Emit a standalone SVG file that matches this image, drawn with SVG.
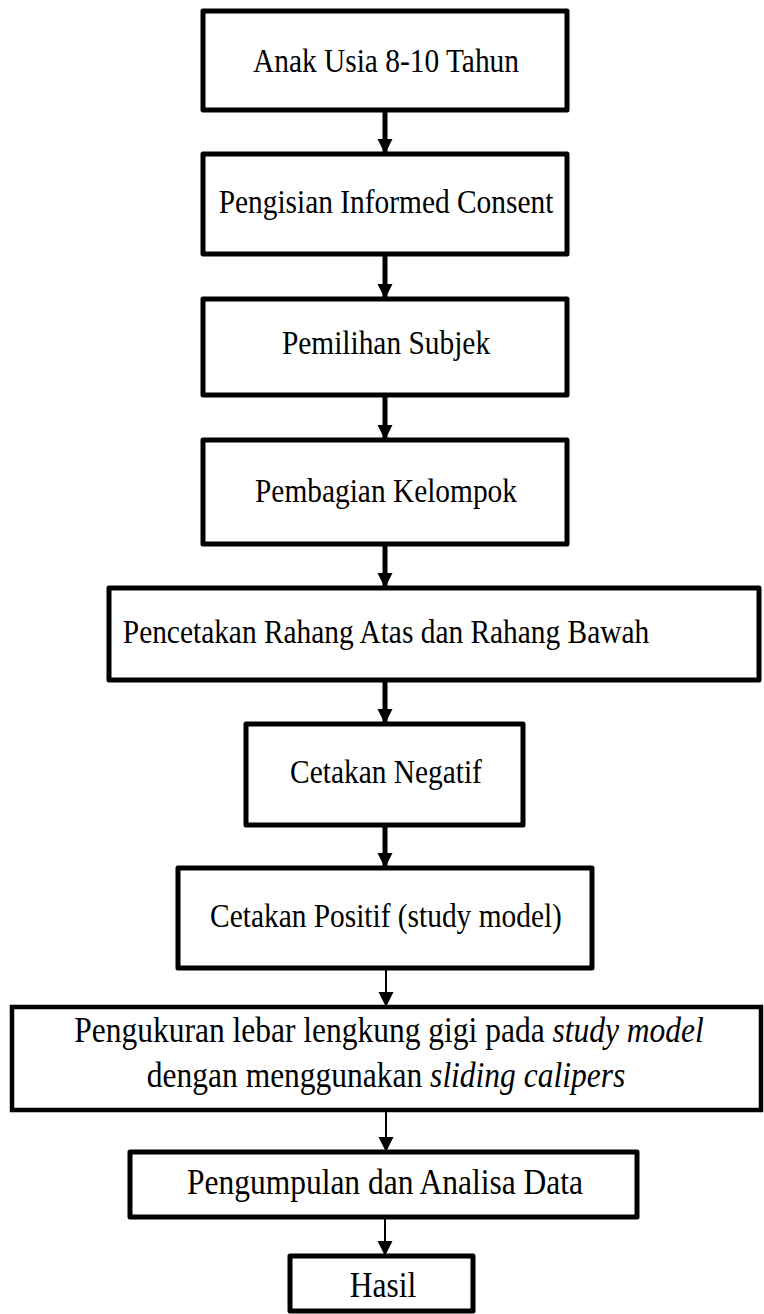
<svg xmlns="http://www.w3.org/2000/svg" width="764" height="1314" viewBox="0 0 764 1314">
<style>
.box{fill:#fff;stroke:#000;stroke-width:5;stroke-linejoin:round}
.thin-box{fill:#fff;stroke:#000;stroke-width:4.5}
.t{font-family:"Liberation Serif","Times New Roman",serif;font-size:29.4px;fill:#000;text-anchor:middle}
.tl{font-family:"Liberation Serif","Times New Roman",serif;font-size:31.5px;fill:#000;text-anchor:middle}
.it{font-style:italic}
.thick{stroke:#000;stroke-width:5;fill:none}
.thin{stroke:#000;stroke-width:2;fill:none}
</style>
<defs>
<marker id="ah" markerUnits="userSpaceOnUse" markerWidth="16" markerHeight="16" refX="15" refY="7.5" orient="auto" viewBox="0 0 16 16">
<path d="M0,0 L15,7.5 L0,15 z" fill="#000"/>
</marker>
</defs>
<rect width="764" height="1314" fill="#fff"/>
<g id="connectors">
<line class="thick" x1="385" y1="110" x2="385" y2="154" marker-end="url(#ah)"/>
<line class="thick" x1="385" y1="254" x2="385" y2="299" marker-end="url(#ah)"/>
<line class="thick" x1="385" y1="395" x2="385" y2="440" marker-end="url(#ah)"/>
<line class="thick" x1="385" y1="544" x2="385" y2="588" marker-end="url(#ah)"/>
<line class="thick" x1="385" y1="680" x2="385" y2="724" marker-end="url(#ah)"/>
<line class="thick" x1="385" y1="825" x2="385" y2="868" marker-end="url(#ah)"/>
<line class="thin" x1="386" y1="968" x2="386" y2="1007" marker-end="url(#ah)"/>
<line class="thin" x1="386" y1="1110" x2="386" y2="1152" marker-end="url(#ah)"/>
<line class="thin" x1="385" y1="1217" x2="385" y2="1256" marker-end="url(#ah)"/>
</g>
<g id="n1"><rect class="box" x="203" y="11" width="364" height="99"/><text class="t" transform="translate(386,72) scale(1,1.13)">Anak Usia 8-10 Tahun</text></g>
<g id="n2"><rect class="box" x="203" y="154" width="364" height="100"/><text class="t" transform="translate(386,213) scale(1,1.13)">Pengisian Informed Consent</text></g>
<g id="n3"><rect class="box" x="203" y="299" width="364" height="96"/><text class="t" transform="translate(386,354) scale(1,1.13)">Pemilihan Subjek</text></g>
<g id="n4"><rect class="box" x="203" y="440" width="364" height="104"/><text class="t" transform="translate(386,502) scale(1,1.13)">Pembagian Kelompok</text></g>
<g id="n5"><rect class="box" x="109" y="588" width="650" height="92"/><text class="t" transform="translate(386,643) scale(1,1.13)">Pencetakan Rahang Atas dan Rahang Bawah</text></g>
<g id="n6"><rect class="box" x="246" y="724" width="277" height="101"/><text class="t" transform="translate(386,783) scale(1,1.13)">Cetakan Negatif</text></g>
<g id="n7"><rect class="box" x="178" y="868" width="414" height="100"/><text class="t" transform="translate(386,927) scale(1,1.13)">Cetakan Positif (study model)</text></g>
<g id="n8"><rect class="thin-box" x="12" y="1007" width="749" height="103"/><text class="tl" transform="translate(389,1042) scale(1,1.13)">Pengukuran lebar lengkung gigi pada <tspan class="it">study model</tspan></text><text class="tl" transform="translate(386,1087) scale(1,1.13)">dengan menggunakan <tspan class="it">sliding calipers</tspan></text></g>
<g id="n9"><rect class="box" x="130" y="1152" width="507" height="65"/><text class="tl" transform="translate(385,1194) scale(1,1.13)">Pengumpulan dan Analisa Data</text></g>
<g id="n10"><rect class="box" x="290" y="1256" width="183" height="55"/><text class="tl" transform="translate(383,1297) scale(1,1.13)">Hasil</text></g>
</svg>
